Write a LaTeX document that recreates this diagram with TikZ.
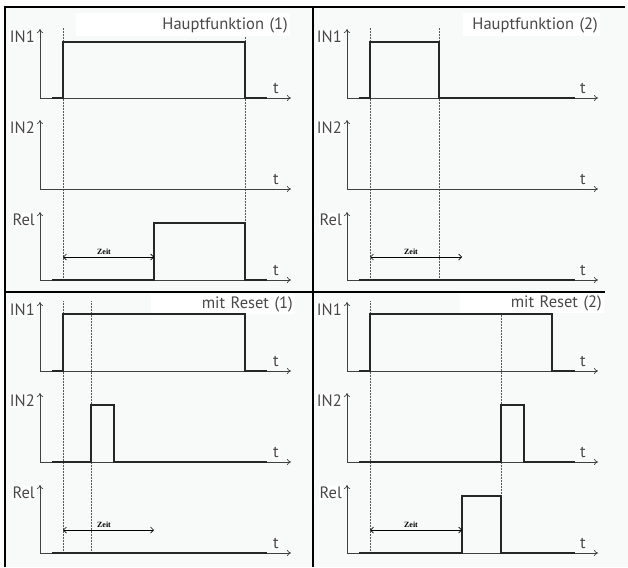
\documentclass[tikz,border=0pt]{standalone}
\usepackage{fontspec}
\setmainfont{PT Sans}
\newfontfamily\zeitfont{Liberation Serif}
\usetikzlibrary{arrows.meta}

\definecolor{paper}{RGB}{248,249,249}
\definecolor{ink}{RGB}{72,72,72}

% three axes of one panel, labels included
\newcommand{\panelaxes}{%
   %axes
   \draw[axis] (40,98) -- (40,29);
   \draw[axis] (40,98) -- (291,98);
   \draw[axis] (40,189) -- (40,120);
   \draw[axis] (40,189) -- (291,189);
   \draw[axis] (40,280) -- (40,212);
   \draw[axis] (40,280) -- (291,280);
   %labels
   \node[lbl, anchor=east] (in1) at (36,37) {IN1};
   \node[lbl, anchor=east] (in2) at (36,128) {IN2};
   \node[lbl, anchor=east] (rel) at (36,220) {Rel};
   \node[lbl] (t1) at (276,88) {t};
   \node[lbl] (t2) at (276,179) {t};
   \node[lbl] (t3) at (276,270) {t};
}

\begin{document}
\begin{tikzpicture}[x=1pt, y=-1pt,
    axis/.style={-{To[length=4pt,width=6pt]}, line width=0.7pt, black!75},
    signal/.style={line width=1.3pt, black!85},
    guide/.style={densely dotted, line width=0.5pt, black!65},
    frame/.style={line width=1.5pt, black},
    lbl/.style={text=ink, fill=white, inner sep=1pt, font=\fontsize{16.5}{17}\selectfont},
    title/.style={text=ink, fill=white, anchor=east, align=right, inner sep=2pt,
                  minimum height=23pt, font=\fontsize{16.5}{17}\selectfont},
    zeit/.style={inner sep=0.5pt, font=\zeitfont\bfseries\fontsize{8}{9}\selectfont},
    span/.style={{Straight Barb[length=3pt,width=6pt]}-{Straight Barb[length=3pt,width=6pt]}, line width=0.7pt}]

   \useasboundingbox (0,0) rectangle (628,567);
   \fill[paper] (5,7) rectangle (628,567);

   % Hauptfunktion (1)
   \begin{scope}[name prefix=a-]
      \draw[guide] (63,28) -- (63,280);
      \draw[guide] (245,28) -- (245,280);
      \node[title, text width=210pt] (head) at (290,25) {Hauptfunktion (1)};
      \panelaxes
      \draw[signal] (52,98) -- (63,98) -- (63,42) -- (245,42) -- (245,98) -- (267,98);
      \draw[signal] (52,280) -- (154,280) -- (154,223) -- (245,223) -- (245,280) -- (267,280);
      \coordinate (z0) at (63,257);
      \coordinate (z1) at (154,257);
      \draw[span] (z0) -- (z1);
      \node[zeit] (zeit) at (104,252) {Zeit};
   \end{scope}

   % Hauptfunktion (2)
   \begin{scope}[shift={(307,0)}, name prefix=b-]
      \draw[guide] (63,28) -- (63,280);
      \draw[guide] (132,28) -- (132,280);
      \node[title, text width=133pt] (head) at (293,25) {Hauptfunktion (2)};
      \panelaxes
      \draw[signal] (52,98) -- (63,98) -- (63,42) -- (132,42) -- (132,98) -- (268,98);
      \draw[signal] (52,280) -- (268,280);
      \coordinate (z0) at (63,257);
      \coordinate (z1) at (155,257);
      \draw[span] (z0) -- (z1);
      \node[zeit] (zeit) at (104,252) {Zeit};
   \end{scope}

   % mit Reset (1)
   \begin{scope}[shift={(0,273)}, name prefix=c-]
      \draw[guide] (63,28) -- (63,280);
      \draw[guide] (91,28) -- (91,280);
      \node[title, text width=140pt, minimum height=19pt] (head) at (295,31) {mit Reset (1)};
      \panelaxes
      \draw[signal] (52,98) -- (63,98) -- (63,41) -- (245,41) -- (245,98) -- (267,98);
      \draw[signal] (52,189) -- (91,189) -- (91,132) -- (114,132) -- (114,189) -- (267,189);
      \draw[signal] (52,280) -- (267,280);
      \coordinate (z0) at (63,257);
      \coordinate (z1) at (154,257);
      \draw[span] (z0) -- (z1);
      \node[zeit] (zeit) at (104,252) {Zeit};
   \end{scope}

   % mit Reset (2)
   \begin{scope}[shift={(307,273)}, name prefix=d-]
      \draw[guide] (63,28) -- (63,280);
      \draw[guide] (194,28) -- (194,280);
      \node[title, text width=140pt, minimum height=19pt] (head) at (297,30) {mit Reset (2)};
      \panelaxes
      \draw[signal] (52,98) -- (63,98) -- (63,41) -- (245,41) -- (245,98) -- (268,98);
      \draw[signal] (52,189) -- (194,189) -- (194,132) -- (217,132) -- (217,189) -- (268,189);
      \draw[signal] (52,280) -- (155,280) -- (155,223) -- (194,223) -- (194,280) -- (268,280);
      \coordinate (z0) at (63,257);
      \coordinate (z1) at (155,257);
      \draw[span] (z0) -- (z1);
      \node[zeit] (zeit) at (104,252) {Zeit};
   \end{scope}

   %frame
   \draw[frame] (5,567) -- (5,7) -- (625,7);
   \draw[frame] (313,7) -- (313,567);
   \draw[frame] (5,292) -- (605,292);

\end{tikzpicture}
\end{document}
